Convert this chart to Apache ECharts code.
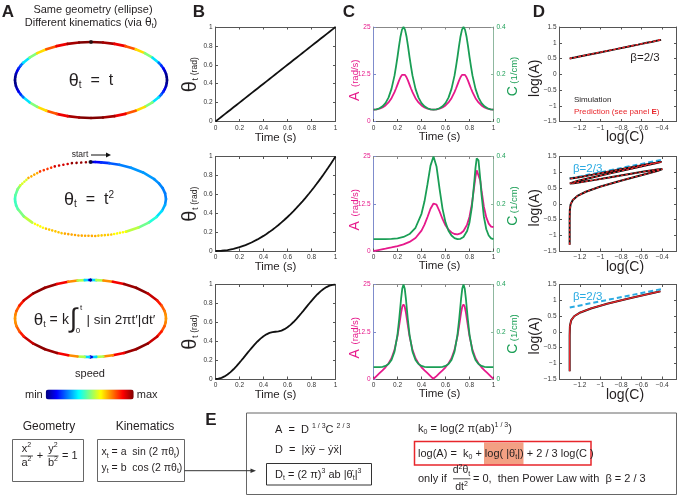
<!DOCTYPE html>
<html><head><meta charset="utf-8">
<script src="https://cdn.jsdelivr.net/npm/echarts@6.0.0/dist/echarts.min.js"></script>
<style>html,body{margin:0;padding:0;background:#fff}#c{width:685px;height:496px}</style>
</head><body><div id="c"></div>
<script>
// ---------------- DATA ----------------
// Row 1: theta = t
const time1 = [0,0.025,0.05,0.075,0.1,0.125,0.15,0.175,0.1875,0.2,0.2125,0.225,0.2375,0.25,0.2625,0.275,0.2875,0.3,0.3125,0.325,0.35,0.375,0.4,0.425,0.45,0.475,0.5,0.525,0.55,0.575,0.6,0.625,0.65,0.675,0.6875,0.7,0.7125,0.725,0.7375,0.75,0.7625,0.775,0.7875,0.8,0.8125,0.825,0.85,0.875,0.9,0.925,0.95,0.975,1];
const theta1 = [0,0.025,0.05,0.075,0.1,0.125,0.15,0.175,0.1875,0.2,0.2125,0.225,0.2375,0.25,0.2625,0.275,0.2875,0.3,0.3125,0.325,0.35,0.375,0.4,0.425,0.45,0.475,0.5,0.525,0.55,0.575,0.6,0.625,0.65,0.675,0.6875,0.7,0.7125,0.725,0.7375,0.75,0.7625,0.775,0.7875,0.8,0.8125,0.825,0.85,0.875,0.9,0.925,0.95,0.975,1];
const angSpeed1 = [3.14,3.20,3.39,3.72,4.24,5.03,6.17,7.77,8.73,9.77,10.80,11.71,12.34,12.57,
  12.34,11.71,10.80,9.77,8.73,7.77,6.17,5.03,4.24,3.72,3.39,3.20,3.14,
  3.20,3.39,3.72,4.24,5.03,6.17,7.77,8.73,9.77,10.80,11.71,12.34,12.57,
  12.34,11.71,10.80,9.77,8.73,7.77,6.17,5.03,4.24,3.72,3.39,3.20,3.14];
const curv1 = [0.050,0.051,0.056,0.064,0.078,0.101,0.138,0.194,0.232,0.274,0.319,0.360,0.389,0.400,
  0.389,0.360,0.319,0.274,0.232,0.194,0.138,0.101,0.078,0.064,0.056,0.051,0.050,
  0.051,0.056,0.064,0.078,0.101,0.138,0.194,0.232,0.274,0.319,0.360,0.389,0.400,
  0.389,0.360,0.319,0.274,0.232,0.194,0.138,0.101,0.078,0.064,0.056,0.051,0.050];

// Row 2: theta = t^2
const time2 = [0,0.008,0.02,0.05,0.1,0.15,0.2,0.25,0.3,0.35,0.4,0.425,0.45,0.475,0.5,0.525,0.55,0.575,0.6,0.625,0.65,0.675,0.7,0.725,0.75,0.78,0.8,0.82,0.84,0.85,0.86,0.866,0.875,0.89,0.9,0.92,0.94,0.96,0.98,1];
const theta2 = [0,0.000064,0.0004,0.0025,0.01,0.0225,0.04,0.0625,0.09,0.1225,0.16,0.1806,0.2025,0.2256,0.25,0.2756,0.3025,0.3306,0.36,0.3906,0.4225,0.4556,0.49,0.5256,0.5625,0.6084,0.64,0.6724,0.7056,0.7225,0.7396,0.75,0.7656,0.7921,0.81,0.8464,0.8836,0.9216,0.9604,1];
const angSpeed2 = [0,0.050,0.126,0.314,0.630,0.957,1.318,1.765,2.403,3.454,5.403,6.962,8.983,11.162,12.57,12.254,10.516,8.472,6.798,5.626,4.888,4.498,4.413,4.646,5.295,6.975,9.064,12.431,17.205,19.628,21.347,21.77,21.381,18.567,16.087,11.727,8.877,7.249,6.453,6.285];
const curv2 = [0.050,0.050,0.050,0.050,0.0502,0.0511,0.0537,0.0595,0.0719,0.0984,0.1575,0.2104,0.2830,0.3615,0.400,0.3578,0.2653,0.1795,0.1210,0.0857,0.0654,0.0546,0.0502,0.0515,0.0595,0.0848,0.1210,0.1873,0.2942,0.3521,0.3925,0.400,0.3833,0.3024,0.2398,0.1444,0.0921,0.0658,0.0536,0.050];

// Row 3: theta = k * integral |sin 2 pi t'| dt'
const time3 = [0,0.0018,0.01,0.025,0.05,0.075,0.1,0.125,0.15,0.175,0.2,0.215,0.23,0.24,0.25,0.26,0.27,0.285,0.3,0.325,0.35,0.375,0.4,0.425,0.45,0.475,0.49,0.4982,0.5,
  0.5018,0.51,0.525,0.55,0.575,0.6,0.625,0.65,0.675,0.7,0.715,0.73,0.74,0.75,0.76,0.77,0.785,0.8,0.825,0.85,0.875,0.9,0.925,0.95,0.975,0.99,0.9982,1];
const theta3 = [0,0.000016,0.000493,0.003078,0.012235,0.027248,0.047746,0.073223,0.103054,0.136502,0.172746,0.195465,0.218668,0.234303,0.25,0.265697,0.281332,0.304535,0.327254,0.363498,0.396946,0.426777,0.452254,0.472752,0.487765,0.496922,0.499507,0.499984,0.5,
  0.500016,0.500493,0.503078,0.512235,0.527248,0.547746,0.573223,0.603054,0.636502,0.672746,0.695465,0.718668,0.734303,0.75,0.765697,0.781332,0.804535,0.827254,0.863498,0.896946,0.926777,0.952254,0.972752,0.987765,0.996922,0.999507,0.999984,1];
const angSpeed3 = [0,0.056,0.310,0.772,1.532,2.290,3.104,4.095,5.491,7.702,11.357,14.392,17.568,19.145,19.74,19.145,17.568,14.392,11.357,7.702,5.491,4.095,3.104,2.290,1.532,0.772,0.310,0.056,0,
  0.056,0.310,0.772,1.532,2.290,3.104,4.095,5.491,7.702,11.357,14.392,17.568,19.145,19.74,19.145,17.568,14.392,11.357,7.702,5.491,4.095,3.104,2.290,1.532,0.772,0.310,0.056,0];
const curv3 = [0.050,0.050,0.050,0.050,0.0503,0.0517,0.0553,0.0636,0.0806,0.1159,0.1882,0.2583,0.3398,0.3832,0.400,0.3832,0.3398,0.2583,0.1882,0.1159,0.0806,0.0636,0.0553,0.0517,0.0503,0.050,0.050,0.050,0.050,
  0.050,0.050,0.050,0.0503,0.0517,0.0553,0.0636,0.0806,0.1159,0.1882,0.2583,0.3398,0.3832,0.400,0.3832,0.3398,0.2583,0.1882,0.1159,0.0806,0.0636,0.0553,0.0517,0.0503,0.050,0.050,0.050,0.050];

// power-law reference lines (log C, log A)
const betaLine2 = [[-1.3,0.80],[-0.4,1.40]];
const betaLine3 = [[-1.3,0.77],[-0.4,1.36]];

// ellipse geometry (semi-axes, cm)
const ELL_A = 10, ELL_B = 5;

// axis ticks
const timeTicks = {min:0, max:1, interval:0.2};
const thetaTicks = {min:0, max:1, interval:0.2};
const angTicks = {min:0, max:25, interval:12.5};
const curvTicks = {min:0, max:0.4, interval:0.2};
const logCTicks = {min:-1.4, max:-0.26, interval:0.2};
const logATicks = {min:-1.5, max:1.5, interval:0.5};

// ---------------- LAYOUT / STYLE ----------------
const FONT = '"Liberation Sans", Arial, Helvetica, "DejaVu Sans", sans-serif';
const TXT = '#231f20';
const MAGENTA = '#e6198b', GREEN = '#1a9e55', CYAN = '#29aae2', RED = '#e8262b';
const JET = ['#00007f','#0000ff','#007fff','#00ffff','#7fff7f','#ffff00','#ff7f00','#ff0000','#7f0000'];
const rows = [
  {time:time1, theta:theta1, A:angSpeed1, C:curv1},
  {time:time2, theta:theta2, A:angSpeed2, C:curv2},
  {time:time3, theta:theta3, A:angSpeed3, C:curv3}
];
const ELLG = [{left:15,top:42,width:152,height:76},{left:15,top:162,width:151,height:74},{left:15,top:280,width:151,height:77}];
const ROWY = [{top:27,height:94.5},{top:156.5,height:94.5},{top:284.5,height:94.5}];
const BX = 215.5, CX = 373.5, DX = 559.5, PW = 120, DW = 117;

const grids = [], xAxes = [], yAxes = [], series = [], G = [], ellIdx = [];
function addGrid(g){ grids.push(Object.assign({containLabel:false}, g)); return grids.length-1; }
function axis(gi, pos, t, o){
  o = o || {};
  return {type:'value', gridIndex:gi, position:pos, min:t.min, max:t.max, interval:t.interval,
    axisLine:{show:true, onZero:false, lineStyle:{color:o.line||'#555', width:1}},
    axisTick:{show:true, inside:true, length:2.5, lineStyle:{color:o.line||'#555'}},
    axisLabel:{show:!!o.labels, fontSize:6.5, color:o.lc||'#333', margin:3, fontFamily:FONT, formatter:o.fmt, showMinLabel:true, showMaxLabel:true},
    splitLine:{show:false}};
}
function addX(a){ xAxes.push(a); return xAxes.length-1; }
function addY(a){ yAxes.push(a); return yAxes.length-1; }
function fmt1(v){ return String(Math.round(v*10)/10).replace('-', '\u2212'); }
function dxFmt(v){ const k = Math.round(v/0.2); if (Math.abs(v-k*0.2) > 1e-6 || k <= -7) return ''; return fmt1(v); }

function T(x, y, text, o){
  o = o || {};
  return {type:'text', x:x, y:y, rotation:o.rot||0, z:100, silent:true,
    style:{text:text, fill:o.color||TXT, fontSize:o.size||11, fontFamily:o.font||FONT, fontWeight:o.weight||'normal',
      align:o.align||'center', verticalAlign:'middle', rich:o.rich}};
}
function R(fs, color, gs){
  color = color || TXT; const sf = Math.round(fs*0.65);
  return {
    m:{fontSize:fs, fill:color, fontFamily:FONT, lineHeight:fs+3},
    g:{fontSize:gs||fs, fill:color, fontFamily:FONT, lineHeight:fs+3},
    s:{fontSize:sf, fill:color, fontFamily:FONT, verticalAlign:'bottom', lineHeight:sf},
    p:{fontSize:sf, fill:color, fontFamily:FONT, verticalAlign:'top', lineHeight:sf},
    b:{fontSize:fs, fill:color, fontFamily:FONT, fontWeight:'bold', lineHeight:fs+3}
  };
}
function L(x1,y1,x2,y2,c,w){ return {type:'line', silent:true, z:100, shape:{x1:x1,y1:y1,x2:x2,y2:y2}, style:{stroke:c||'#333', lineWidth:w||1}}; }
function BOX(x,y,w,h,c,lw,fill){ return {type:'rect', silent:true, z:99, shape:{x:x,y:y,width:w,height:h}, style:{fill:fill||'none', stroke:c||'#666', lineWidth:lw||1}}; }

// ellipse segment renderer (dots at equal time steps, colored by speed)
const DOTS_PER_S = 200;
function renderSeg(params, api){
  const p1 = api.coord([api.value(0), api.value(1)]);
  const p2 = api.coord([api.value(2), api.value(3)]);
  const len = Math.hypot(p2[0]-p1[0], p2[1]-p1[1]);
  const n = Math.max(1, api.value(5)*DOTS_PER_S);
  const gap = len/n;
  return {type:'line', shape:{x1:p1[0], y1:p1[1], x2:p2[0], y2:p2[1]},
    style:{stroke:api.visual('color'), lineWidth:2.6, lineCap:'round', lineDash: gap > 2.7 ? [0.01, gap] : null}};
}

rows.forEach(function(d, r){
  const y = ROWY[r];
  // ---- Panel A ellipse
  const eg = addGrid(ELLG[r]);
  const ex = addX({type:'value', gridIndex:eg, min:-ELL_A, max:ELL_A, show:false});
  const ey = addY({type:'value', gridIndex:eg, min:-ELL_B, max:ELL_B, show:false});
  const v = d.A.map(function(a,i){ return a/d.C[i]; }); // tangential speed = A / C
  const vmin = Math.min.apply(null, v), vmax = Math.max.apply(null, v);
  const pts = d.theta.map(function(th){ return [ELL_A*Math.sin(2*Math.PI*th), ELL_B*Math.cos(2*Math.PI*th)]; });
  const segs = [];
  for (let i = 0; i < pts.length-1; i++) {
    const s = ((v[i]+v[i+1])/2 - vmin)/(vmax - vmin);
    segs.push([pts[i][0], pts[i][1], pts[i+1][0], pts[i+1][1], s, d.time[i+1]-d.time[i]]);
  }
  ellIdx.push(series.length);
  series.push({type:'custom', coordinateSystem:'cartesian2d', xAxisIndex:ex, yAxisIndex:ey, renderItem:renderSeg,
    data:segs, encode:{x:[0,2], y:[1,3]}, clip:false, silent:true, z:3});
  if (r < 2) series.push({type:'scatter', xAxisIndex:ex, yAxisIndex:ey, data:[pts[0]], symbolSize:4, itemStyle:{color:'#111'}, z:5, silent:true});

  // ---- Panel B theta(t)
  const bg = addGrid({left:BX, top:y.top, width:PW, height:y.height});
  const bx = addX(axis(bg, 'bottom', timeTicks, {labels:true}));
  addX(axis(bg, 'top', timeTicks));
  const by = addY(axis(bg, 'left', thetaTicks, {labels:true}));
  addY(axis(bg, 'right', thetaTicks));
  series.push({type:'line', xAxisIndex:bx, yAxisIndex:by, showSymbol:false, silent:true,
    data:d.time.map(function(t,i){ return [t, d.theta[i]]; }), lineStyle:{color:'#111', width:1.8}, itemStyle:{color:'#111'}});

  // ---- Panel C A(t) and C(t)
  const cg = addGrid({left:CX, top:y.top, width:PW, height:y.height});
  const cx = addX(axis(cg, 'bottom', timeTicks, {labels:true}));
  addX(axis(cg, 'top', timeTicks, {line:'#888'}));
  const cyA = addY(axis(cg, 'left', angTicks, {labels:true, lc:MAGENTA, line:'#7f8ccc'}));
  const cyC = addY(axis(cg, 'right', curvTicks, {labels:true, lc:GREEN, line:'#8fb8a0'}));
  series.push({type:'line', xAxisIndex:cx, yAxisIndex:cyA, showSymbol:false, silent:true,
    data:d.time.map(function(t,i){ return [t, d.A[i]]; }), lineStyle:{color:MAGENTA, width:1.8}, itemStyle:{color:MAGENTA}});
  series.push({type:'line', xAxisIndex:cx, yAxisIndex:cyC, showSymbol:false, silent:true,
    data:d.time.map(function(t,i){ return [t, d.C[i]]; }), lineStyle:{color:GREEN, width:1.8}, itemStyle:{color:GREEN}});

  // ---- Panel D log(A) vs log(C)
  const dg = addGrid({left:DX, top:y.top, width:DW, height:y.height});
  const dx = addX(axis(dg, 'bottom', logCTicks, {labels:true, fmt:dxFmt}));
  addX(axis(dg, 'top', logCTicks));
  const dy = addY(axis(dg, 'left', logATicks, {labels:true, fmt:fmt1}));
  addY(axis(dg, 'right', logATicks));
  const lp = [];
  d.A.forEach(function(a,i){ if (a > 0) lp.push([Math.log10(d.C[i]), Math.log10(a)]); });
  if (r > 0) series.push({type:'line', xAxisIndex:dx, yAxisIndex:dy, showSymbol:false, silent:true,
    data: r === 1 ? betaLine2 : betaLine3, lineStyle:{color:CYAN, width:2, type:[5,3]}, itemStyle:{color:CYAN}, z:2});
  series.push({type:'line', xAxisIndex:dx, yAxisIndex:dy, showSymbol:false, silent:true,
    data:lp, lineStyle:{color:'#111', width:2}, itemStyle:{color:'#111'}, z:3});
  series.push({type:'line', xAxisIndex:dx, yAxisIndex:dy, showSymbol:false, silent:true,
    data:lp, lineStyle:{color:RED, width:1.3, type:[2.5,2]}, itemStyle:{color:RED}, z:4});

  // ---- axis titles
  const cy = y.top + y.height/2, bot = y.top + y.height;
  G.push(T(190, cy+12.5, 'θ', {size:20, rot:Math.PI/2}));
  G.push(T(195.5, cy+5, 't', {size:9, rot:Math.PI/2}));
  G.push(T(194.5, cy-8, '(rad)', {size:8.5, rot:Math.PI/2}));
  G.push(T(BX+PW/2, bot+16, 'Time (s)', {size:11.5}));
  G.push(T(CX+PW/2+6, bot+15, 'Time (s)', {size:11.5}));
  G.push(T(355, cy+22, 'A', {size:14, rot:Math.PI/2, color:MAGENTA}));
  G.push(T(355.5, cy-1, '(rad/s)', {size:9.5, rot:Math.PI/2, color:MAGENTA}));
  G.push(T(513.5, cy+17, 'C', {size:14, rot:Math.PI/2, color:GREEN}));
  G.push(T(514.5, cy-4, '(1/cm)', {size:9.5, rot:Math.PI/2, color:GREEN}));
  G.push(T(535.5, cy+4, 'log(A)', {size:14, rot:Math.PI/2}));
  G.push(T(DX+DW/2+7, bot+16, 'log(C)', {size:14}));
});

// ---------------- TEXT / ANNOTATIONS ----------------
G.push(T(8, 12, 'A', {size:17, weight:'bold'}));
G.push(T(199, 12, 'B', {size:17, weight:'bold'}));
G.push(T(349, 12, 'C', {size:17, weight:'bold'}));
G.push(T(539, 12, 'D', {size:17, weight:'bold'}));
G.push(T(211, 420, 'E', {size:17, weight:'bold'}));

G.push(T(93, 10, 'Same geometry (ellipse)', {size:11}));
G.push(T(91, 23, '{m|Different kinematics (via }{g|θ}{s|t}{m|)}', {size:11, rich:R(11, TXT, 12)}));

G.push(T(91, 81, '{g|θ}{s|t}{m|  =  t}', {rich:R(16, TXT, 18)}));
G.push(T(89, 200, '{g|θ}{s|t}{m|  =  t}{p|2}', {rich:R(16, TXT, 18)}));
G.push(T(38.5, 320, 'θ', {size:17}));
G.push(T(44.5, 324.5, 't', {size:9}));
G.push(T(53.5, 320, '=', {size:14}));
G.push(T(65.5, 320, 'k', {size:14}));
G.push(T(73.5, 320, '∫', {size:27}));
G.push(T(81, 308, 't', {size:8}));
G.push(T(78, 331, '0', {size:8}));
G.push(T(86.5, 320, '| sin 2πt′|dt′', {size:13.5, align:'left'}));

G.push(T(80, 155, 'start', {size:8.5}));
G.push(L(91, 155, 108, 155, '#111', 1));
G.push({type:'polygon', silent:true, z:100, shape:{points:[[111,155],[106,152.5],[106,157.5]]}, style:{fill:'#111'}});

G.push(T(90, 374, 'speed', {size:11}));

// D panel annotations
G.push(T(645, 58, 'β=2/3', {size:11.5}));
G.push(T(574, 100, 'Simulation', {size:8, align:'left'}));
G.push(T(574, 111.5, '{r|Prediction (see panel }{b|E}{r|)}', {align:'left', rich:{r:{fontSize:8, fill:RED, fontFamily:FONT}, b:{fontSize:8, fill:RED, fontFamily:FONT, fontWeight:'bold'}}}));
G.push(T(573, 169, 'β=2/3', {size:11.5, color:CYAN, align:'left'}));
G.push(T(573, 297, 'β=2/3', {size:11.5, color:CYAN, align:'left'}));

// Geometry box
G.push(T(49, 426.5, 'Geometry', {size:12}));
G.push(BOX(12.5, 439.5, 71, 42));
G.push(T(26.5, 449, '{m|x}{p|2}', {rich:R(11)}));
G.push(L(20.5, 456, 33, 456, '#222', 0.8));
G.push(T(26.5, 463, '{m|a}{p|2}', {rich:R(11)}));
G.push(T(40, 456, '+', {size:11}));
G.push(T(53, 449, '{m|y}{p|2}', {rich:R(11)}));
G.push(L(47.5, 456, 58.5, 456, '#222', 0.8));
G.push(T(53, 463, '{m|b}{p|2}', {rich:R(11)}));
G.push(T(62, 456, '= 1', {size:11, align:'left'}));

// Kinematics box
G.push(T(145, 426.5, 'Kinematics', {size:12}));
G.push(BOX(97.5, 439.5, 87, 42));
G.push(T(101.5, 452.5, '{m|x}{s|t}{m| = a  sin (2 πθ}{s|t}{m|)}', {align:'left', rich:R(10.5)}));
G.push(T(101.5, 468, '{m|y}{s|t}{m| = b  cos (2 πθ}{s|t}{m|)}', {align:'left', rich:R(10.5)}));
G.push(L(184.5, 470.7, 252, 470.7, '#333', 1));
G.push({type:'polygon', silent:true, z:100, shape:{points:[[256,470.7],[250.5,468.5],[250.5,473]]}, style:{fill:'#333'}});

// E box
G.push(BOX(246.5, 413, 430, 81.5));
G.push(T(275, 430, '{m|A  =  D }{p|1 / 3}{m|C }{p|2 / 3}', {align:'left', rich:R(11)}));
G.push(T(275, 450, 'D  =  |ẋÿ − ẏẍ|', {align:'left', size:11}));
G.push(BOX(266.5, 463.5, 105, 21.5, '#333', 1));
G.push(T(275, 474.5, '{m|D}{s|t}{m| = (2 π)}{p|3}{m| ab |θ̇}{s|t}{m||}{p|3}', {align:'left', rich:R(11)}));
G.push(T(418, 429, '{m|k}{s|0}{m| = log(2 π(ab)}{p|1 / 3}{m|)}', {align:'left', rich:R(11)}));
G.push(BOX(484, 442.5, 39.5, 22, 'none', 0, '#f3a083'));
G.push(BOX(414.5, 441.5, 176.5, 23.5, RED, 1.5));
G.push(T(418, 453.5, '{m|log(A) =  k}{s|0}{m| + log( |θ̇}{s|t}{m||) + 2 / 3 log(C )}', {align:'left', rich:R(11)}));
G.push(T(418, 479, 'only if', {align:'left', size:11}));
G.push(T(461.5, 470.5, '{m|d}{p|2}{m|θ}{s|t}', {rich:R(10.5)}));
G.push(L(453, 478.8, 470.5, 478.8, '#222', 0.8));
G.push(T(461.5, 487.5, '{m|dt}{p|2}', {rich:R(10.5)}));
G.push(T(473, 479, '= 0,  then Power Law with  β = 2 / 3', {align:'left', size:11}));

const option = {
  animation:false,
  backgroundColor:'#ffffff',
  textStyle:{fontFamily:FONT},
  grid:grids, xAxis:xAxes, yAxis:yAxes, series:series,
  visualMap:[{type:'continuous', min:0, max:1, dimension:4, seriesIndex:ellIdx,
    orient:'horizontal', left:10, top:374, itemWidth:10, itemHeight:88, text:['max','min'], textGap:3,
    calculable:false, hoverLink:false, realtime:false,
    textStyle:{fontSize:11, color:TXT, fontFamily:FONT}, inRange:{color:JET}}],
  graphic:{elements:G}
};
const chart = echarts.init(document.getElementById('c'), null, {renderer:'canvas'});
chart.setOption(option);
</script></body></html>
